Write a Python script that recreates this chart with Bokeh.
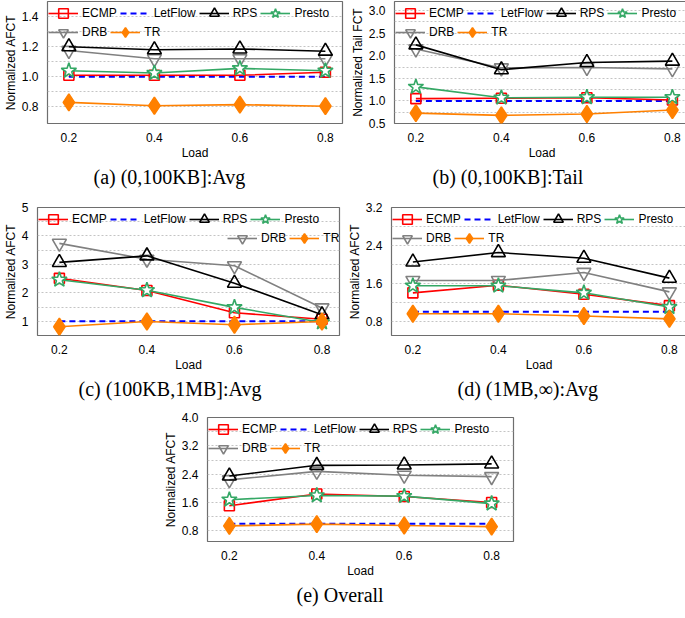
from bokeh.plotting import figure
from bokeh.layouts import column, row, Spacer
from bokeh.models import Legend, LegendItem, Title, FixedTicker, Range1d, PrintfTickFormatter
from bokeh.embed import file_html
from bokeh.resources import INLINE

loads = [0.2, 0.4, 0.6, 0.8]
schemes = ["ECMP", "LetFlow", "RPS", "Presto", "DRB", "TR"]

# (a) (0,100KB]:Avg
a_ecmp = [1.01, 1.01, 1.01, 1.03]
a_letflow = [1.00, 1.00, 1.00, 1.00]
a_rps = [1.20, 1.18, 1.185, 1.17]
a_presto = [1.04, 1.025, 1.056, 1.04]
a_drb = [1.175, 1.12, 1.12, 1.12]
a_tr = [0.83, 0.808, 0.815, 0.805]

# (b) (0,100KB]:Tail
b_ecmp = [1.05, 1.06, 1.07, 1.02]
b_letflow = [1.00, 1.00, 1.00, 1.00]
b_rps = [2.24, 1.69, 1.85, 1.88]
b_presto = [1.31, 1.07, 1.08, 1.08]
b_drb = [2.15, 1.73, 1.74, 1.71]
b_tr = [0.73, 0.68, 0.71, 0.80]

# (c) (100KB,1MB]:Avg
c_ecmp = [2.51, 2.08, 1.30, 1.07]
c_letflow = [1.00, 1.00, 1.00, 1.00]
c_rps = [3.07, 3.30, 2.34, 1.23]
c_presto = [2.46, 2.09, 1.49, 0.96]
c_drb = [3.74, 3.18, 2.95, 1.47]
c_tr = [0.81, 0.99, 0.88, 0.99]

# (d) (1MB,inf):Avg
d_ecmp = [1.40, 1.56, 1.37, 1.13]
d_letflow = [1.00, 1.00, 1.00, 1.00]
d_rps = [2.05, 2.25, 2.13, 1.71]
d_presto = [1.55, 1.55, 1.40, 1.10]
d_drb = [1.66, 1.66, 1.83, 1.42]
d_tr = [0.96, 0.96, 0.91, 0.85]

# (e) Overall
e_ecmp = [1.51, 1.84, 1.77, 1.60]
e_letflow = [1.00, 1.00, 1.00, 1.00]
e_rps = [2.35, 2.65, 2.66, 2.69]
e_presto = [1.68, 1.80, 1.78, 1.57]
e_drb = [2.24, 2.48, 2.37, 2.33]
e_tr = [0.94, 0.99, 0.95, 0.92]

x_ticks = [0.2, 0.4, 0.6, 0.8]
a_yticks = [0.8, 1.0, 1.2, 1.4]
a_grid = [0.8, 0.9, 1.0, 1.1, 1.2, 1.3, 1.4]
b_yticks = [0.5, 1.0, 1.5, 2.0, 2.5, 3.0]
b_grid = [0.75, 1.0, 1.25, 1.5, 1.75, 2.0, 2.25, 2.5, 2.75, 3.0]
c_yticks = [1, 2, 3, 4, 5]
c_grid = [1.0, 1.5, 2.0, 2.5, 3.0, 3.5, 4.0, 4.5]
d_yticks = [0.8, 1.6, 2.4, 3.2]
d_grid = [0.8, 1.2, 1.6, 2.0, 2.4, 2.8]
e_yticks = [0.8, 1.6, 2.4, 3.2, 4.0]
e_grid = [0.8, 1.2, 1.6, 2.0, 2.4, 2.8, 3.2, 3.6]

STYLE = {
    "ECMP":    dict(color="#ff0000", marker="square", size=10, fill=None, dash="solid", lw=1.6),
    "LetFlow": dict(color="#0000ff", marker=None, size=0, fill=None, dash="6 4", lw=2.0),
    "RPS":     dict(color="#000000", marker="triangle", size=14, fill=None, dash="solid", lw=1.6),
    "Presto":  dict(color="#34a865", marker="star", size=16, fill="white", dash="solid", lw=1.6),
    "DRB":     dict(color="#808080", marker="inverted_triangle", size=14, fill=None, dash="solid", lw=1.6),
    "TR":      dict(color="#ff8000", marker="diamond", size=17, fill="#ff8000", dash="solid", lw=1.6),
}
DRAW_ORDER = ["LetFlow", "ECMP", "DRB", "RPS", "Presto", "TR"]
FONT = "Liberation Sans"
GH = 24


def make_legend(items, loc):
    return Legend(items=items, location=loc, orientation="horizontal", margin=0, padding=0,
                  spacing=3, glyph_width=30, glyph_height=GH, label_standoff=4,
                  label_height=14, label_text_font=FONT, label_text_font_size="12px",
                  label_text_color="black", background_fill_alpha=0, border_line_alpha=0)


def panel(series, ylabel, yr, yticks, grid, fmt, caption, fw, fh, mb, cap_off,
          xr=(0.15, 0.84), row2_right=False):
    left, right, top = mb
    p = figure(frame_width=fw, frame_height=fh, output_backend="svg", toolbar_location=None,
               x_range=Range1d(*xr), y_range=Range1d(*yr),
               min_border_left=left, min_border_right=right,
               min_border_top=top, min_border_bottom=0)
    p.outline_line_color = "#6e6e6e"
    p.outline_line_width = 1.2
    p.background_fill_color = "white"
    p.border_fill_color = "white"
    p.xgrid.visible = False
    p.ygrid.ticker = FixedTicker(ticks=grid)
    p.ygrid.grid_line_color = "#c4c4c4"
    p.ygrid.grid_line_dash = "2 2"
    p.ygrid.grid_line_width = 1

    p.xaxis.ticker = FixedTicker(ticks=x_ticks)
    p.xaxis.formatter = PrintfTickFormatter(format="%.1f")
    p.yaxis.ticker = FixedTicker(ticks=yticks)
    p.yaxis.formatter = PrintfTickFormatter(format=fmt)
    for ax in (p.xaxis, p.yaxis):
        ax.axis_line_color = None
        ax.major_tick_line_color = None
        ax.minor_tick_line_color = None
        ax.major_label_text_font = FONT
        ax.major_label_text_font_size = "12px"
        ax.major_label_text_color = "black"
        ax.axis_label_text_font = FONT
        ax.axis_label_text_font_size = "12px"
        ax.axis_label_text_font_style = "normal"
        ax.axis_label_text_color = "black"
        ax.major_label_standoff = 3
        ax.axis_label_standoff = 1
    p.xaxis.axis_label = "Load"
    p.yaxis.axis_label = ylabel

    rend = {}
    for name in DRAW_ORDER:
        st = STYLE[name]
        ys = series[name]
        ln = p.line(loads, ys, line_color=st["color"], line_width=st["lw"], line_dash=st["dash"])
        rs = [ln]
        if st["marker"]:
            sc = p.scatter(loads, ys, marker=st["marker"], size=st["size"],
                           line_color=st["color"], line_width=1.6,
                           fill_color=st["fill"], fill_alpha=1.0 if st["fill"] else 0)
            rs.append(sc)
        rend[name] = rs

    items1 = [LegendItem(label=n, renderers=rend[n]) for n in schemes[:4]]
    items2 = [LegendItem(label=n, renderers=rend[n]) for n in schemes[4:]]
    l1 = make_legend(items1, (1, fh - GH))
    if row2_right:
        l2 = make_legend(items2, (fw - 112, fh - 19 - GH))
    else:
        l2 = make_legend(items2, (1, fh - 19 - GH))
    p.add_layout(l1)
    p.add_layout(l2)

    t = Title(text=caption, align="left", text_font="Liberation Serif",
              text_font_size="20px", text_font_style="normal", text_color="black",
              standoff=3, offset=cap_off)
    p.add_layout(t, "below")
    return p


def ser(e, l, r, pr, d, t):
    return {"ECMP": e, "LetFlow": l, "RPS": r, "Presto": pr, "DRB": d, "TR": t}


pa = panel(ser(a_ecmp, a_letflow, a_rps, a_presto, a_drb, a_tr), "Normalized AFCT",
           (0.69, 1.5), a_yticks, a_grid, "%.1f", "(a) (0,100KB]:Avg", 295, 122, (35, 5, 1), 46)
pb = panel(ser(b_ecmp, b_letflow, b_rps, b_presto, b_drb, b_tr), "Normalized Tail FCT",
           (0.5, 3.2), b_yticks, b_grid, "%.1f", "(b) (0,100KB]:Tail", 295, 122, (35, 4, 1), 38)
pc = panel(ser(c_ecmp, c_letflow, c_rps, c_presto, c_drb, c_tr), "Normalized AFCT",
           (0.5, 5.0), c_yticks, c_grid, "%d", "(c) (100KB,1MB]:Avg", 302, 128, (28, 5, 18), 41,
           row2_right=True)
pd_ = panel(ser(d_ecmp, d_letflow, d_rps, d_presto, d_drb, d_tr), "Normalized AFCT",
            (0.5, 3.2), d_yticks, d_grid, "%.1f", "(d) (1MB,\u221e):Avg", 295, 128, (35, 4, 18), 66)
pe = panel(ser(e_ecmp, e_letflow, e_rps, e_presto, e_drb, e_tr), "Normalized AFCT",
           (0.5, 4.0), e_yticks, e_grid, "%.1f", "(e) Overall", 306, 124, (36, 8, 16), 89,
           xr=(0.15, 0.85))

layout = column(row(pa, pb, spacing=0), row(pc, pd_, spacing=0),
                row(Spacer(width=160, height=10), pe, spacing=0), spacing=0)

open("out.html", "w").write(file_html(layout, INLINE))
